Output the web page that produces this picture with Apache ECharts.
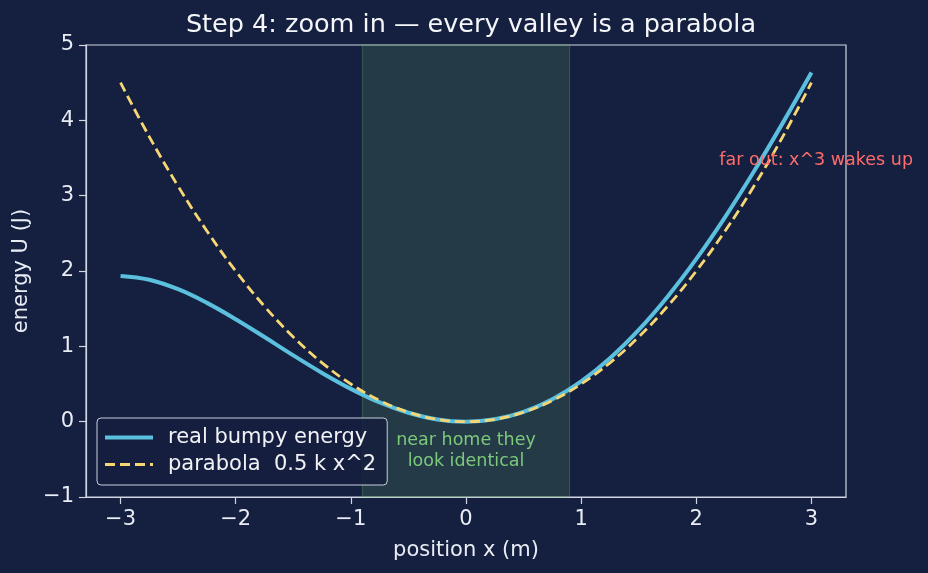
<!DOCTYPE html>
<html>
<head>
<meta charset="utf-8">
<script src="https://cdn.jsdelivr.net/npm/echarts@6/dist/echarts.min.js"></script>
<style>
  html, body { margin: 0; padding: 0; background: #152040; }
  #chart { width: 928px; height: 573px; }
</style>
</head>
<body>
<div id="chart"></div>
<script>
// values
var xs = [-3, -2.75, -2.5, -2.25, -2, -1.75, -1.5, -1.25, -1, -0.75, -0.5, -0.25, 0,
          0.25, 0.5, 0.75, 1, 1.25, 1.5, 1.75, 2, 2.25, 2.5, 2.75, 3]
var realEnergy = [1.935, 1.884, 1.758, 1.577, 1.36, 1.123, 0.880, 0.647, 0.435, 0.255, 0.118, 0.030, 0,
                  0.032, 0.130, 0.298, 0.535, 0.842, 1.218, 1.659, 2.16, 2.716, 3.320, 3.963, 4.635]
var parabola = [4.5, 3.781, 3.125, 2.531, 2, 1.531, 1.125, 0.781, 0.5, 0.281, 0.125, 0.031, 0,
                0.031, 0.125, 0.281, 0.5, 0.781, 1.125, 1.531, 2, 2.531, 3.125, 3.781, 4.5]
var xTicks = [-3, -2, -1, 0, 1, 2, 3]
var band = [-0.9, 0.9]

function pairs(ys) {
  return xs.map(function (x, i) { return [x, ys[i]] })
}

var chart = echarts.init(document.getElementById('chart'))
var fg = '#e8ecf4'
var font = 'DejaVu Sans'
var blue = '#5bc0de'
var yellow = '#f7d774'
var minusFmt = function (v) { return v < 0 ? '\u2212' + (-v) : String(v) }

chart.setOption({
  backgroundColor: '#152040',
  animation: false,
  title: {
    text: 'Step 4: zoom in \u2014 every valley is a parabola',
    left: 466,
    textAlign: 'center',
    top: 7,
    textStyle: { color: '#f4f6fa', fontSize: 25.5, fontWeight: 'normal', fontFamily: font }
  },
  grid: {
    left: 86, right: 82, top: 45, bottom: 76,
    show: true, borderColor: '#d0d6e2', borderWidth: 1.2
  },
  legend: {
    left: 97, top: 418,
    orient: 'vertical',
    itemWidth: 48, itemHeight: 14, itemGap: 6,
    padding: [9, 11, 10, 6],
    backgroundColor: 'rgba(21,30,62,0.85)',
    borderColor: '#c8cfdc', borderWidth: 1, borderRadius: 4,
    itemStyle: { color: 'rgba(0,0,0,0)', borderColor: 'rgba(0,0,0,0)', borderWidth: 0 },
    textStyle: { color: '#f0f2f6', fontSize: 21, fontFamily: font, padding: [0, 0, 0, 10] },
    data: [
      { name: 'real bumpy energy', lineStyle: { color: blue, width: 4 } },
      { name: 'parabola  0.5 k x^2', lineStyle: { color: yellow, width: 2.8, type: [10, 5] } }
    ]
  },
  xAxis: {
    type: 'value', min: -3.3, max: 3.3,
    name: 'position x (m)', nameLocation: 'middle', nameGap: 43,
    nameTextStyle: { color: fg, fontSize: 21, fontFamily: font },
    axisLine: { show: true, onZero: false, lineStyle: { color: '#d0d6e2', width: 1.2 } },
    axisTick: { show: true, length: 7, lineStyle: { color: '#d0d6e2', width: 1.2 }, customValues: xTicks },
    axisLabel: { color: fg, fontSize: 21, fontFamily: font, margin: 12, customValues: xTicks, formatter: minusFmt },
    splitLine: { show: false }
  },
  yAxis: {
    type: 'value', min: -1, max: 5, interval: 1,
    name: 'energy U (J)', nameLocation: 'middle', nameGap: 52,
    nameTextStyle: { color: fg, fontSize: 21, fontFamily: font },
    axisLine: { show: true, onZero: false, lineStyle: { color: '#d0d6e2', width: 1.2 } },
    axisTick: { show: true, length: 7, lineStyle: { color: '#d0d6e2', width: 1.2 } },
    axisLabel: { color: fg, fontSize: 21, fontFamily: font, margin: 12, formatter: minusFmt },
    splitLine: { show: false }
  },
  series: [
    {
      name: 'real bumpy energy',
      type: 'line',
      data: pairs(realEnergy),
      smooth: 0.4,
      symbol: 'none',
      color: blue,
      lineStyle: { color: blue, width: 4 },
      z: 3,
      markArea: {
        silent: true,
        itemStyle: { color: 'rgba(100,170,100,0.2)', borderColor: 'rgba(110,170,110,0.35)', borderWidth: 1 },
        data: [[{ xAxis: band[0] }, { xAxis: band[1] }]]
      },
      markPoint: {
        silent: true,
        symbol: 'circle', symbolSize: 0,
        data: [
          {
            coord: [2.2, 3.47],
            label: {
              show: true, position: 'right', distance: 0,
              formatter: 'far out: x^3 wakes up',
              color: '#ff6b6b', fontSize: 17.5, fontFamily: font
            }
          },
          {
            coord: [0, -0.39],
            label: {
              show: true, position: 'inside', align: 'center', verticalAlign: 'middle',
              formatter: 'near home they\nlook identical', lineHeight: 21,
              color: '#7cc97c', fontSize: 17.5, fontFamily: font
            }
          }
        ]
      }
    },
    {
      name: 'parabola  0.5 k x^2',
      type: 'line',
      data: pairs(parabola),
      smooth: 0.4,
      symbol: 'none',
      color: yellow,
      lineStyle: { color: yellow, width: 2.8, type: [10, 5] },
      z: 4
    }
  ]
})
</script>
</body>
</html>
